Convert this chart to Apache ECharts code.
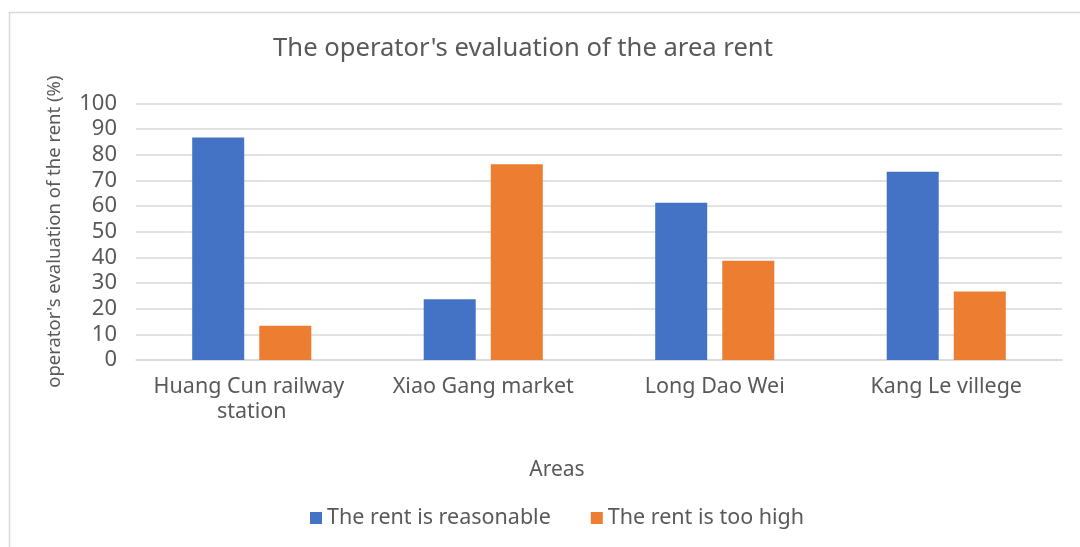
<!DOCTYPE html>
<html>
<head>
<meta charset="utf-8">
<script src="https://cdn.jsdelivr.net/npm/echarts@6/dist/echarts.min.js"></script>
<style>
  html, body { margin: 0; padding: 0; background: #fff; }
  #chart { width: 1080px; height: 547px; }
</style>
</head>
<body>
<div id="chart"></div>
<script>
// data
const areas = ['Huang Cun railway station', 'Xiao Gang market', 'Long Dao Wei', 'Kang Le villege'];
const reasonable = [86.7, 23.7, 61.3, 73.3];
const tooHigh = [13.3, 76.3, 38.7, 26.7];
const seriesNames = ['The rent is reasonable', 'The rent is too high'];

const textColor = '#595959';
const font = "'Noto Sans', 'DejaVu Sans', sans-serif";

var chartDom = document.getElementById('chart');
var myChart = echarts.init(chartDom, null, { devicePixelRatio: 1 });

var option = {
  animation: false,
  textStyle: { fontFamily: font },
  graphic: [
    {
      type: 'rect',
      shape: { x: 9.5, y: 12.5, width: 1100, height: 600 },
      style: { fill: 'none', stroke: '#d9d9d9', lineWidth: 1.5 },
      silent: true
    }
  ],
  title: {
    text: "The operator's evaluation of the area rent",
    left: 518,
    textAlign: 'center',
    top: 31,
    textStyle: { fontSize: 25.6, fontWeight: 'normal', color: textColor, fontFamily: font }
  },
  legend: {
    data: seriesNames,
    bottom: 13,
    left: 305,
    itemWidth: 12,
    itemHeight: 12,
    itemGap: 40,
    icon: 'rect',
    textStyle: { fontSize: 21.5, color: textColor, fontFamily: font }
  },
  grid: {
    left: 136,
    right: 18,
    top: 103.3,
    bottom: 187,
    containLabel: false
  },
  xAxis: {
    type: 'category',
    data: areas,
    name: 'Areas',
    nameLocation: 'middle',
    nameGap: 100,
    nameTextStyle: { fontSize: 21, color: textColor, padding: [0, 84, 0, 0] },
    axisTick: { show: false },
    axisLine: { lineStyle: { color: '#d9d9d9', width: 1.5 } },
    axisLabel: {
      fontSize: 21.5,
      color: textColor,
      margin: 14,
      width: 215,
      overflow: 'break',
      lineHeight: 25,
      interval: 0
    }
  },
  yAxis: {
    type: 'value',
    min: 0,
    max: 100,
    interval: 10,
    name: "operator's evaluation of the rent (%)",
    nameLocation: 'middle',
    nameGap: 72,
    nameTextStyle: { fontSize: 18.5, color: textColor },
    axisLine: { show: false },
    axisTick: { show: false },
    axisLabel: { fontSize: 22, color: textColor, margin: 19 },
    splitLine: { lineStyle: { color: '#d9d9d9', width: 1.5 } }
  },
  series: [
    {
      name: seriesNames[0],
      type: 'bar',
      data: reasonable,
      barWidth: 52,
      barGap: '29%',
      itemStyle: { color: '#4472c4' }
    },
    {
      name: seriesNames[1],
      type: 'bar',
      data: tooHigh,
      barWidth: 52,
      itemStyle: { color: '#ed7d31' }
    }
  ]
};

option && myChart.setOption(option);
</script>
</body>
</html>
